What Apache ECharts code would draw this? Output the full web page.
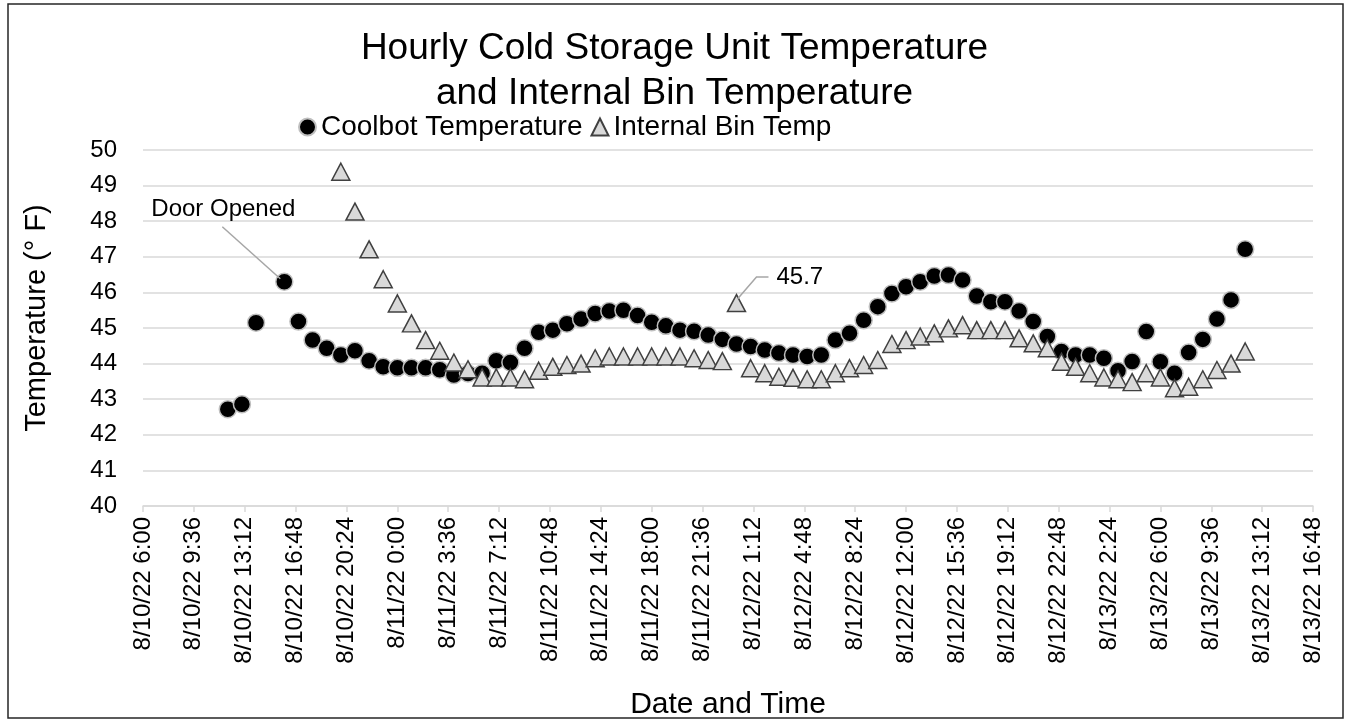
<!DOCTYPE html>
<html>
<head>
<meta charset="utf-8">
<script src="https://cdn.jsdelivr.net/npm/echarts@6/dist/echarts.min.js"></script>
<style>
  html, body { margin: 0; padding: 0; background: #fff; }
  #myChart { width: 1349px; height: 723px; }
</style>
</head>
<body>
<div id="myChart"></div>
<script>
// hours after 8/10/22 6:00 (one reading per hour)
var hours = [6, 7, 8, 9, 10, 11, 12, 13, 14, 15, 16, 17, 18, 19, 20, 21, 22, 23, 24, 25,
  26, 27, 28, 29, 30, 31, 32, 33, 34, 35, 36, 37, 38, 39, 40, 41, 42, 43, 44, 45,
  46, 47, 48, 49, 50, 51, 52, 53, 54, 55, 56, 57, 58, 59, 60, 61, 62, 63, 64, 65,
  66, 67, 68, 69, 70, 71, 72, 73, 74, 75, 76, 77, 78];

var coolbotTemp = [42.72, 42.86, 45.15, null, 46.30, 45.18, 44.66, 44.43, 44.24, 44.36,
  44.08, 43.91, 43.88, 43.88, 43.88, 43.83, 43.68, 43.72, 43.73, 44.08,
  44.03, 44.43, 44.88, 44.94, 45.12, 45.25, 45.41, 45.48, 45.50, 45.35,
  45.16, 45.06, 44.94, 44.91, 44.80, 44.68, 44.55, 44.48, 44.38, 44.30,
  44.24, 44.20, 44.24, 44.66, 44.85, 45.22, 45.60, 45.97, 46.16, 46.30,
  46.46, 46.49, 46.35, 45.90, 45.74, 45.74, 45.48, 45.18, 44.76, 44.34,
  44.24, 44.24, 44.15, 43.80, 44.06, 44.90, 44.05, 43.73, 44.31, 44.68,
  45.25, 45.79, 47.21];

var binTemp = [null, null, null, null, null, null, null, null, 49.39, 48.27,
  47.21, 46.37, 45.69, 45.13, 44.66, 44.36, 44.03, 43.84, 43.61, 43.61,
  43.61, 43.56, 43.80, 43.91, 43.96, 44.00, 44.15, 44.20, 44.20, 44.20,
  44.20, 44.20, 44.20, 44.15, 44.10, 44.07, 45.70, 43.87, 43.73, 43.63,
  43.60, 43.56, 43.56, 43.73, 43.87, 43.96, 44.10, 44.55, 44.66, 44.76,
  44.85, 44.99, 45.08, 44.94, 44.94, 44.94, 44.71, 44.57, 44.43, 44.05,
  43.91, 43.73, 43.61, 43.56, 43.48, 43.73, 43.61, 43.31, 43.35, 43.56,
  43.82, 44.00, 44.34];

// x tick labels, one every 3.6 hours
var xTickLabels = ['8/10/22 6:00', '8/10/22 9:36', '8/10/22 13:12', '8/10/22 16:48', '8/10/22 20:24',
  '8/11/22 0:00', '8/11/22 3:36', '8/11/22 7:12', '8/11/22 10:48', '8/11/22 14:24', '8/11/22 18:00',
  '8/11/22 21:36', '8/12/22 1:12', '8/12/22 4:48', '8/12/22 8:24', '8/12/22 12:00', '8/12/22 15:36',
  '8/12/22 19:12', '8/12/22 22:48', '8/13/22 2:24', '8/13/22 6:00', '8/13/22 9:36', '8/13/22 13:12',
  '8/13/22 16:48'];

function pairs(vals) {
  var out = [];
  for (var i = 0; i < hours.length; i++) {
    if (vals[i] !== null) out.push([hours[i] * 60, vals[i]]);
  }
  return out;
}

var font = '"Liberation Sans", Arial, sans-serif';
var myChart = echarts.init(document.getElementById('myChart'));

myChart.setOption({
  backgroundColor: '#fff',
  animation: false,
  title: {
    text: 'Hourly Cold Storage Unit Temperature\nand Internal Bin Temperature',
    left: 'center',
    top: 21,
    textStyle: { fontFamily: font, fontSize: 37, fontWeight: 'normal', color: '#000', lineHeight: 45 }
  },
  legend: {
    left: 298,
    top: 113,
    padding: 0,
    itemWidth: 17,
    itemHeight: 17,
    itemGap: 8,
    textStyle: { fontFamily: font, fontSize: 28, color: '#000' },
    data: [
      { name: 'Coolbot Temperature', icon: 'circle' },
      { name: 'Internal Bin Temp', icon: 'triangle' }
    ]
  },
  grid: { left: 143, right: 36, top: 150, bottom: 217 },
  xAxis: {
    type: 'value',
    min: 0,
    max: 4968,
    interval: 216,   // 3.6 h in minutes
    name: 'Date and Time',
    nameLocation: 'middle',
    nameGap: 184,
    nameTextStyle: { fontFamily: font, fontSize: 30, color: '#000' },
    axisLine: { lineStyle: { color: '#d9d9d9', width: 1.5 } },
    axisTick: { show: true, length: 6, lineStyle: { color: '#d9d9d9', width: 1.5 } },
    splitLine: { show: false },
    axisLabel: {
      rotate: 90,
      margin: 11,
      fontFamily: font,
      fontSize: 24,
      color: '#000',
      formatter: function (v) { return xTickLabels[Math.round(v / 216)] || ''; }
    }
  },
  yAxis: {
    type: 'value',
    min: 40,
    max: 50,
    interval: 1,
    name: 'Temperature (° F)',
    nameLocation: 'middle',
    nameGap: 92,
    nameTextStyle: { fontFamily: font, fontSize: 29, color: '#000', padding: [0, 0, 0, 20] },
    axisLine: { show: false },
    axisTick: { show: false },
    splitLine: { lineStyle: { color: '#d9d9d9', width: 1.5 } },
    axisLabel: { margin: 26, fontFamily: font, fontSize: 24, color: '#000' }
  },
  series: [
    {
      name: 'Coolbot Temperature',
      type: 'scatter',
      symbol: 'circle',
      symbolSize: 17,
      itemStyle: { color: '#000', borderColor: '#bfbfbf', borderWidth: 1.5, opacity: 1 },
      data: pairs(coolbotTemp)
    },
    {
      name: 'Internal Bin Temp',
      type: 'scatter',
      symbol: 'triangle',
      symbolSize: [18, 17],
      itemStyle: { color: '#d9d9d9', borderColor: '#404040', borderWidth: 1.5, opacity: 1 },
      data: pairs(binTemp)
    }
  ]
});

// annotations: find the points through the chart's own scales
var door = myChart.convertToPixel({ seriesIndex: 0 }, [10 * 60, coolbotTemp[hours.indexOf(10)]]);
var peak = myChart.convertToPixel({ seriesIndex: 1 }, [42 * 60, binTemp[hours.indexOf(42)]]);
var lead = { stroke: '#a6a6a6', lineWidth: 1.5 };

myChart.setOption({
  graphic: [
    { type: 'rect', silent: true, shape: { x: 8, y: 4, width: 1335, height: 714 },
      style: { fill: 'none', stroke: '#262626', lineWidth: 1.5 } },
    { type: 'polyline', silent: true, z: 10,
      shape: { points: [[door[0] - 62, door[1] - 55], [door[0] - 4, door[1] - 3]] }, style: lead },
    { type: 'text', silent: true, z: 10, x: door[0] - 133, y: door[1] - 72,
      style: { text: 'Door Opened', font: '24px ' + font, fill: '#000', verticalAlign: 'middle' } },
    { type: 'polyline', silent: true, z: 10,
      shape: { points: [[peak[0] + 1, peak[1] - 4], [peak[0] + 20, peak[1] - 26], [peak[0] + 32, peak[1] - 26]] }, style: lead },
    { type: 'text', silent: true, z: 10, x: peak[0] + 40, y: peak[1] - 26,
      style: { text: '45.7', font: '24px ' + font, fill: '#000', verticalAlign: 'middle' } }
  ]
});
</script>
</body>
</html>
